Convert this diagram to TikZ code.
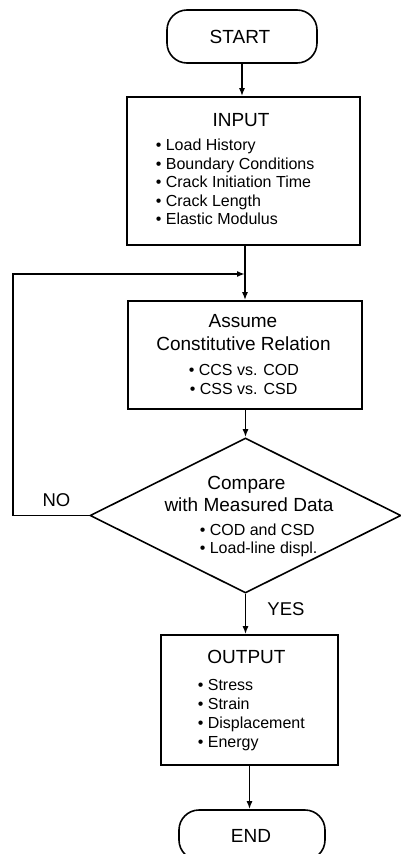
\documentclass[tikz,border=0pt]{standalone}
\usepackage{fontspec}
\setmainfont{Liberation Sans}
\usetikzlibrary{shapes.geometric,arrows.meta}
\begin{document}
\begin{tikzpicture}[x=1pt,y=-1pt,
  line width=1.6pt,
  arr/.style={-{Latex[length=8pt,width=6pt]}},
  box/.style={draw,rectangle,inner sep=0pt},
  pill/.style={draw,rectangle,rounded corners=20pt,inner sep=0pt},
  decision/.style={draw,diamond,inner sep=0pt},
  ttl/.style={font=\fontsize{19}{23}\selectfont,anchor=base,inner sep=0pt},
  lbl/.style={font=\fontsize{18.5}{22}\selectfont,anchor=base,inner sep=0pt},
  itm/.style={font=\fontsize{16}{18.5}\selectfont,anchor=base west,inner sep=0pt},
]
\useasboundingbox (0,0) rectangle (400,854);

% shapes
\node[pill, minimum width=150pt, minimum height=53pt] (start) at (242,36.5) {};
\node[box, minimum width=233pt, minimum height=148pt] (input) at (243.5,171) {};
\node[box, minimum width=234pt, minimum height=108pt] (assume) at (245,355) {};
\node[decision, minimum width=311pt, minimum height=155pt] (cmp) at (245.5,515.5) {};
\node[box, minimum width=177pt, minimum height=130pt] (output) at (249.5,700) {};
\node[pill, minimum width=146pt, minimum height=50pt] (end) at (252,835) {};

% texts
\node[ttl] (tstart) at (240,43) {START};
\node[ttl] (tinput) at (241,126.5) {INPUT};
\node[itm] (i1) at (155,150.5) {\textbullet\ Load History};
\node[itm] (i2) at (155,169) {\textbullet\ Boundary Conditions};
\node[itm] (i3) at (155,187.5) {\textbullet\ Crack Initiation Time};
\node[itm] (i4) at (155,206) {\textbullet\ Crack Length};
\node[itm] (i5) at (155,224.5) {\textbullet\ Elastic Modulus};

\node[ttl] (ta1) at (243,327) {Assume};
\node[ttl] (ta2) at (243.5,350) {Constitutive Relation};
\node[itm] (a1) at (188,375) {\textbullet\ CCS vs. COD};
\node[itm] (a2) at (189,394) {\textbullet\ CSS vs. CSD};

\node[ttl] (tc1) at (246.5,489) {Compare};
\node[ttl] (tc2) at (249,511) {with Measured Data};
\node[itm] (c1) at (199,535) {\textbullet\ COD and CSD};
\node[itm] (c2) at (199,553) {\textbullet\ Load-line displ.};

\node[ttl] (tout) at (246.5,663) {OUTPUT};
\node[itm] (o1) at (197,690) {\textbullet\ Stress};
\node[itm] (o2) at (197,709) {\textbullet\ Strain};
\node[itm] (o3) at (197,728) {\textbullet\ Displacement};
\node[itm] (o4) at (197,747) {\textbullet\ Energy};

\node[ttl] (tend) at (251,842) {END};

\node[lbl] (no) at (56.5,506) {NO};
\node[lbl] (yes) at (286,615) {YES};

% connectors
\coordinate (join) at (245,274);
\coordinate (corner) at (13,274);
\draw[arr] (start.south) -- (start.south |- input.north);
\draw[arr] (input.south -| assume.north) -- (assume.north);
\draw[arr] (cmp.west) -| (corner) -- (join);
\draw[arr] (assume.south -| cmp.north) -- (cmp.north);
\draw[arr] (cmp.south) -- (cmp.south |- output.north);
\draw[arr] (output.south) -- (output.south |- end.north);
\end{tikzpicture}
\end{document}
